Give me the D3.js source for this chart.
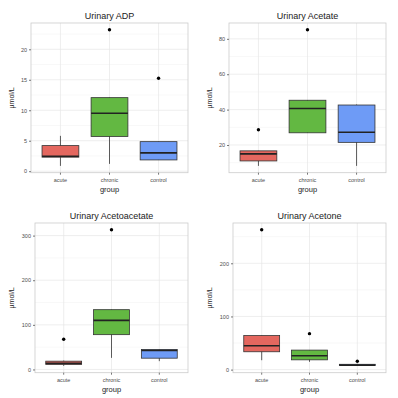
<!DOCTYPE html>
<html>
<head>
<meta charset="utf-8">
<script src="https://cdn.jsdelivr.net/npm/d3@7"></script>
<style>
body { margin: 0; background: #fff; }
text { font-family: "Liberation Sans", Arial, sans-serif; }
</style>
</head>
<body>
<div id="chart"></div>
<script>
// groups shared by every panel
const groups = ["acute", "chronic", "control"]
const colors = ["#e4675f", "#63b842", "#6e9bf6"]

// five number summaries per group: [whiskerLow, q1, median, q3, whiskerHigh]
const adpStats = [[0.87, 2.3, 2.45, 4.2, 5.8], [1.2, 5.7, 9.5, 12.07, 12.07], [1.85, 1.85, 3.0, 4.85, 4.85]]
const adpOutliers = [[], [23.2], [15.25]]
const adpTicks = [0, 5, 10, 15, 20]

const acetateStats = [[8.2, 11.0, 15.0, 16.7, 16.7], [26.9, 26.9, 40.6, 45.3, 45.3], [8.2, 21.5, 27.2, 42.6, 42.9]]
const acetateOutliers = [[28.6], [85.1], []]
const acetateTicks = [20, 40, 60, 80]

const acetoStats = [[8, 11.2, 14, 18.6, 20], [26, 78, 110, 134, 134], [18.6, 25.3, 42.5, 44.7, 45]]
const acetoOutliers = [[67.8], [313], []]
const acetoTicks = [0, 100, 200, 300]

const acetoneStats = [[17.7, 33.6, 45, 64, 64], [14.6, 18.4, 26, 36.7, 36.7], [7, 7.6, 8.5, 10, 11]]
const acetoneOutliers = [[263], [67.7], [15.7]]
const acetoneTicks = [0, 100, 200]

const panels = [
  {title: "Urinary ADP", stats: adpStats, out: adpOutliers, ticks: adpTicks, ox: 0, oy: 0},
  {title: "Urinary Acetate", stats: acetateStats, out: acetateOutliers, ticks: acetateTicks, ox: 198, oy: 0},
  {title: "Urinary Acetoacetate", stats: acetoStats, out: acetoOutliers, ticks: acetoTicks, ox: 0, oy: 200},
  {title: "Urinary Acetone", stats: acetoneStats, out: acetoneOutliers, ticks: acetoneTicks, ox: 198, oy: 200}
]

const svg = d3.select("#chart").append("svg")
  .attr("width", 398).attr("height", 398)

svg.append("rect").attr("width", 398).attr("height", 398).attr("fill", "#fff")

panels.forEach(p => {
  const maxLen = d3.max(p.ticks, t => String(t).length)
  const left = maxLen > 2 ? 35 : 31
  const right = 188, top = 23, bottom = 172.7

  const g = svg.append("g").attr("transform", `translate(${p.ox},${p.oy})`)

  const allVals = p.stats.flat().concat(p.out.flat())
  const lo = d3.min(allVals), hi = d3.max(allVals)
  const pad = (hi - lo) * 0.05

  const y = d3.scaleLinear().domain([lo - pad, hi + pad]).range([bottom, top])
  const x = d3.scaleBand().domain(groups).range([left, right]).paddingOuter(0.1).paddingInner(0)
  const cx = d => x(d) + x.bandwidth() / 2
  const bw = x.bandwidth() * 0.75

  // panel background + grid
  g.append("rect").attr("x", left).attr("y", top)
    .attr("width", right - left).attr("height", bottom - top)
    .attr("fill", "#fff")

  const step = p.ticks[1] - p.ticks[0]
  const minor = []
  for (let i = -1; i < p.ticks.length; i++) {
    const v = (i < 0 ? p.ticks[0] - step : p.ticks[i]) + step / 2
    if (v > y.domain()[0] && v < y.domain()[1]) minor.push(v)
  }
  g.selectAll(".minor").data(minor).join("line")
    .attr("x1", left).attr("x2", right)
    .attr("y1", d => y(d)).attr("y2", d => y(d))
    .attr("stroke", "#f4f4f4").attr("stroke-width", 0.6)
  g.selectAll(".major").data(p.ticks).join("line")
    .attr("x1", left).attr("x2", right)
    .attr("y1", d => y(d)).attr("y2", d => y(d))
    .attr("stroke", "#e6e6e6").attr("stroke-width", 0.7)
  g.selectAll(".vgrid").data(groups).join("line")
    .attr("x1", d => cx(d)).attr("x2", d => cx(d))
    .attr("y1", top).attr("y2", bottom)
    .attr("stroke", "#e6e6e6").attr("stroke-width", 0.7)

  // boxes
  const box = g.selectAll(".box").data(groups).join("g")
  box.append("line")
    .attr("x1", d => cx(d)).attr("x2", d => cx(d))
    .attr("y1", (d, i) => y(p.stats[i][0])).attr("y2", (d, i) => y(p.stats[i][4]))
    .attr("stroke", "#333").attr("stroke-width", 0.8)
  box.append("rect")
    .attr("x", d => cx(d) - bw / 2).attr("width", bw)
    .attr("y", (d, i) => y(p.stats[i][3]))
    .attr("height", (d, i) => Math.max(y(p.stats[i][1]) - y(p.stats[i][3]), 0.5))
    .attr("fill", (d, i) => colors[i])
    .attr("stroke", "#333").attr("stroke-width", 0.8)
  box.append("line")
    .attr("x1", d => cx(d) - bw / 2).attr("x2", d => cx(d) + bw / 2)
    .attr("y1", (d, i) => y(p.stats[i][2])).attr("y2", (d, i) => y(p.stats[i][2]))
    .attr("stroke", "#222").attr("stroke-width", 1.6)
  box.each(function (d, i) {
    d3.select(this).selectAll("circle").data(p.out[i]).join("circle")
      .attr("cx", cx(d)).attr("cy", v => y(v)).attr("r", 1.7).attr("fill", "#000")
  })

  // panel border
  g.append("rect").attr("x", left).attr("y", top)
    .attr("width", right - left).attr("height", bottom - top)
    .attr("fill", "none").attr("stroke", "#cccccc").attr("stroke-width", 0.8)

  // axes
  const yAxis = d3.axisLeft(y).tickValues(p.ticks).tickSize(2).tickPadding(2)
  const xAxis = d3.axisBottom(x).tickSize(2).tickPadding(3)
  const ya = g.append("g").attr("transform", `translate(${left},0)`).call(yAxis)
  const xa = g.append("g").attr("transform", `translate(0,${bottom})`).call(xAxis)
  ;[ya, xa].forEach(a => {
    a.select(".domain").remove()
    a.selectAll(".tick line").attr("stroke", "#555").attr("stroke-width", 0.8)
    a.selectAll(".tick text").attr("fill", "#4d4d4d").style("font-size", "5.5px")
  })

  // titles
  g.append("text").attr("x", (left + right) / 2).attr("y", 19)
    .attr("text-anchor", "middle").style("font-size", "9px").attr("fill", "#222")
    .text(p.title)
  g.append("text").attr("x", (left + right) / 2).attr("y", 192)
    .attr("text-anchor", "middle").style("font-size", "7.5px").attr("fill", "#222")
    .text("group")
  g.append("text")
    .attr("transform", `translate(14,${(top + bottom) / 2}) rotate(-90)`)
    .attr("text-anchor", "middle").style("font-size", "7px").attr("fill", "#222")
    .text("µmol/L")
})
</script>
</body>
</html>
